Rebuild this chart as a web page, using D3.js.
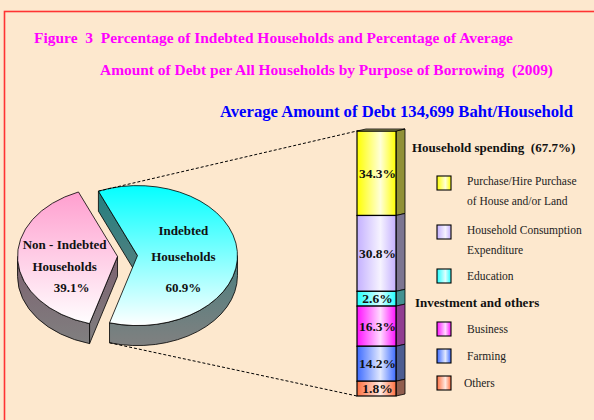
<!DOCTYPE html>
<html>
<head>
<meta charset="utf-8">
<script src="https://cdn.jsdelivr.net/npm/d3@7"></script>
<style>
  body { margin: 0; background: #fde8ce; }
  text { font-family: "Liberation Serif", "Times New Roman", serif; }
</style>
</head>
<body>
<script>
/////////////////////////////// дані
var pieNames = ["Indebted Households", "Non - Indebted Households"];
var pieValues = [60.9, 39.1];
var pieLines = [["Indebted", "Households"], ["Non - Indebted", "Households"]];

var purposes = ["Purchase/Hire Purchase of House and/or Land", "Household Consumption Expenditure",
  "Education", "Business", "Farming", "Others"];
var purposeValues = [34.3, 30.8, 2.6, 16.3, 14.2, 1.8];
var legendLines = [["Purchase/Hire Purchase", "of House and/or Land"], ["Household Consumption", "Expenditure"],
  ["Education"], ["Business"], ["Farming"], ["Others"]];
var groupNames = ["Household spending  (67.7%)", "Investment and others"];

var titleLines = ["Figure  3  Percentage of Indebted Households and Percentage of Average",
  "Amount of Debt per All Households by Purpose of Borrowing  (2009)"];
var subtitle = "Average Amount of Debt 134,699 Baht/Household";

/////////////////////////////// кольори
var pieTop = ["#00ffff", "#ff99cc"];
var pieWall = ["#1f7f7f", "#7a4862"];
var barColors = ["#ffff00", "#c4b0ff", "#22ffff", "#ff11ff", "#3d6bff", "#ff7040"];

/////////////////////////////// розміри
var width = 594, height = 420;

var svg = d3.select("body").append("svg").attr("width", width).attr("height", height);
var defs = svg.append("defs");

svg.append("rect").attr("x", 4.5).attr("y", 11.5).attr("width", 620).attr("height", 440)
  .attr("fill", "none").attr("stroke", "#ff3333").attr("stroke-width", 1.6);

// заголовки
svg.selectAll(".title").data(titleLines).enter().append("text")
  .attr("class", "title")
  .attr("x", (d, i) => (i ? 100 : 34))
  .attr("y", (d, i) => (i ? 75 : 43))
  .attr("textLength", (d, i) => (i ? 453 : 479))
  .attr("lengthAdjust", "spacingAndGlyphs")
  .style("white-space", "pre")
  .style("font-size", "14px").style("font-weight", "bold").style("fill", "#ff00ff")
  .text((d) => d);

svg.append("text").attr("x", 220).attr("y", 117)
  .attr("textLength", 353).attr("lengthAdjust", "spacingAndGlyphs")
  .style("font-size", "16.5px").style("font-weight", "bold").style("fill", "#0000ff")
  .text(subtitle);

/////////////////////////////// 3D пиріг
var rx = 100, ry = 70, depth = 20, explode = 10;
var base = { x: 127.5, y: 256 };
var start = -23 * Math.PI / 180;

var pie = d3.pie().sort(null).startAngle(start).endAngle(start + 2 * Math.PI);
var arcs = pie(pieValues);

function pt(c, a, dy) {
  return [c.x + rx * Math.sin(a), c.y - ry * Math.cos(a) + (dy || 0)];
}

// градієнти
pieTop.forEach(function (c, i) {
  var g = defs.append("linearGradient").attr("id", "pt" + i)
    .attr("gradientUnits", "userSpaceOnUse").attr("x1", 0).attr("x2", 0).attr("y1", 184).attr("y2", 326);
  g.append("stop").attr("offset", 0).attr("stop-color", c);
  g.append("stop").attr("offset", 1).attr("stop-color", "#ffffff");
  var w = defs.append("linearGradient").attr("id", "pw" + i)
    .attr("gradientUnits", "userSpaceOnUse").attr("x1", 0).attr("x2", 0).attr("y1", 184).attr("y2", 346);
  w.append("stop").attr("offset", 0).attr("stop-color", pieWall[i]);
  w.append("stop").attr("offset", 1).attr("stop-color", "#808080");
});

arcs.forEach(function (d, i) {
  var mid = (d.startAngle + d.endAngle) / 2;
  d.c = { x: base.x + explode * Math.sin(mid), y: base.y - explode * Math.cos(mid) * ry / rx };
});

var pg = svg.append("g").attr("class", "pie");

arcs.forEach(function (d, i) {
  var c = d.c;
  var a0 = d.startAngle, a1 = d.endAngle;
  // бічні зрізи
  [[a0, a0 - Math.PI / 2], [a1, a1 + Math.PI / 2]].forEach(function (e) {
    if (Math.cos(e[1]) < 0) {
      var p = pt(c, e[0]);
      pg.append("path")
        .attr("d", "M" + c.x + "," + c.y + "L" + p + "L" + p[0] + "," + (p[1] + depth) +
          "L" + c.x + "," + (c.y + depth) + "Z")
        .attr("fill", "url(#pw" + i + ")").attr("stroke", "#000").attr("stroke-width", 0.8);
    }
  });
  // зовнішня стінка (передня половина)
  [-2 * Math.PI, 0, 2 * Math.PI].forEach(function (k) {
    var s = Math.max(a0, Math.PI / 2 + k), e = Math.min(a1, 1.5 * Math.PI + k);
    if (e > s) {
      var p0 = pt(c, s), p1 = pt(c, e);
      pg.append("path")
        .attr("d", "M" + p0 + "A" + rx + "," + ry + " 0 0 1 " + p1 +
          "L" + p1[0] + "," + (p1[1] + depth) +
          "A" + rx + "," + ry + " 0 0 0 " + p0[0] + "," + (p0[1] + depth) + "Z")
        .attr("fill", "url(#pw" + i + ")").attr("stroke", "#000").attr("stroke-width", 0.8);
    }
  });
  // верх
  var p0 = pt(c, a0), p1 = pt(c, a1);
  var large = a1 - a0 > Math.PI ? 1 : 0;
  pg.append("path")
    .attr("d", "M" + c.x + "," + c.y + "L" + p0 + "A" + rx + "," + ry + " 0 " + large + " 1 " + p1 + "Z")
    .attr("fill", "url(#pt" + i + ")").attr("stroke", "#000").attr("stroke-width", 0.8);
});

// підписи пирога
var pieDy = [[-21, 5], [-7, 15]];
arcs.forEach(function (d, i) {
  var mid = (d.startAngle + d.endAngle) / 2;
  var lx = d.c.x + rx * 0.46 * Math.sin(mid);
  var ly = d.c.y;
  var t = pg.append("text").attr("text-anchor", "middle")
    .style("font-size", "13px").style("font-weight", "bold").style("fill", "#111");
  pieLines[i].forEach(function (line, j) {
    t.append("tspan").attr("x", lx - (i ? 7 : 0)).attr("y", ly + pieDy[i][j]).text(line);
  });
  t.append("tspan").attr("x", lx).attr("y", ly + 36).text(d3.format(".1f")(d.data) + "%");
});

/////////////////////////////// 3D стовпчик
var shown = purposeValues.map((v) => Math.max(v, 6)); // мінімальна висота сегмента
var total = d3.sum(shown);
var cum = [0].concat(Array.from(d3.cumsum(shown)));

var y = d3.scaleLinear().domain([0, total]).range([131, 396]);
var x = d3.scaleBand().domain(["debt"]).range([357, 396]).padding(0);
var side = 9, lift = 2;

barColors.forEach(function (c, i) {
  var g = defs.append("linearGradient").attr("id", "bg" + i);
  g.append("stop").attr("offset", 0).attr("stop-color", c);
  g.append("stop").attr("offset", 0.6).attr("stop-color", d3.interpolateRgb(c, "#ffffff")(0.85));
  g.append("stop").attr("offset", 1).attr("stop-color", c);
});

var bx0 = x("debt"), bx1 = x("debt") + x.bandwidth();
var bg = svg.append("g").attr("class", "bar");

var seg = bg.selectAll(".seg").data(purposeValues).enter().append("g").attr("class", "seg");

seg.append("path")
  .attr("d", (d, i) => "M" + bx1 + "," + y(cum[i]) + "L" + (bx1 + side) + "," + (y(cum[i]) - lift) +
    "L" + (bx1 + side) + "," + (y(cum[i + 1]) - lift) + "L" + bx1 + "," + y(cum[i + 1]) + "Z")
  .attr("fill", (d, i) => d3.interpolateRgb(barColors[i], "#555555")(0.65))
  .attr("stroke", "#000").attr("stroke-width", 0.8);

seg.append("rect")
  .attr("x", bx0).attr("y", (d, i) => y(cum[i]))
  .attr("width", x.bandwidth()).attr("height", (d, i) => y(cum[i + 1]) - y(cum[i]))
  .attr("fill", (d, i) => "url(#bg" + i + ")")
  .attr("stroke", "#000").attr("stroke-width", 1.2);

bg.append("path")
  .attr("d", "M" + bx0 + "," + y(0) + "L" + (bx0 + side) + "," + (y(0) - lift) + "L" + (bx1 + side) + "," +
    (y(0) - lift) + "L" + bx1 + "," + y(0) + "Z")
  .attr("fill", "#8a8a55").attr("stroke", "#000").attr("stroke-width", 0.8);

seg.append("text")
  .attr("x", (bx0 + bx1) / 2 + 1)
  .attr("y", (d, i) => (y(cum[i]) + y(cum[i + 1])) / 2 + 4.5)
  .attr("text-anchor", "middle")
  .style("font-size", "13.5px").style("font-weight", "bold").style("fill", "#111")
  .text((d) => d3.format(".1f")(d) + "%");

/////////////////////////////// пунктирні лінії
var cy = arcs[0];
var topPt = pt(cy.c, cy.startAngle);
var botPt = pt(cy.c, cy.endAngle, depth);
svg.append("path")
  .attr("d", "M" + topPt + "L" + bx0 + "," + y(0) + "M" + botPt + "L" + bx0 + "," + y(total))
  .attr("stroke", "#000").attr("stroke-width", 1).attr("stroke-dasharray", "3,2").attr("fill", "none");

/////////////////////////////// легенда
var groupY = [152, 307];
var legendY = [176, 225, 269, 322, 349, 376];
var lg = svg.append("g").attr("class", "legend");

lg.selectAll(".grp").data(groupNames).enter().append("text")
  .attr("x", (d, i) => (i ? 415 : 412)).attr("y", (d, i) => groupY[i])
  .style("white-space", "pre")
  .style("font-size", "13px").style("font-weight", "bold").style("fill", "#111")
  .text((d) => d);

var item = lg.selectAll(".item").data(purposes).enter().append("g").attr("class", "item")
  .attr("transform", (d, i) => "translate(437," + legendY[i] + ")");

item.append("rect").attr("width", 14).attr("height", 14)
  .attr("fill", (d, i) => "url(#bg" + i + ")").attr("stroke", "#000").attr("stroke-width", 1.1);

item.each(function (d, i) {
  var t = d3.select(this).append("text")
    .style("font-size", "11.5px").style("fill", "#222");
  legendLines[i].forEach(function (line, j) {
    t.append("tspan").attr("x", i === 5 ? 27 : 30).attr("y", (i < 2 ? 9 : 11) + j * 20).text(line);
  });
});
</script>
</body>
</html>
